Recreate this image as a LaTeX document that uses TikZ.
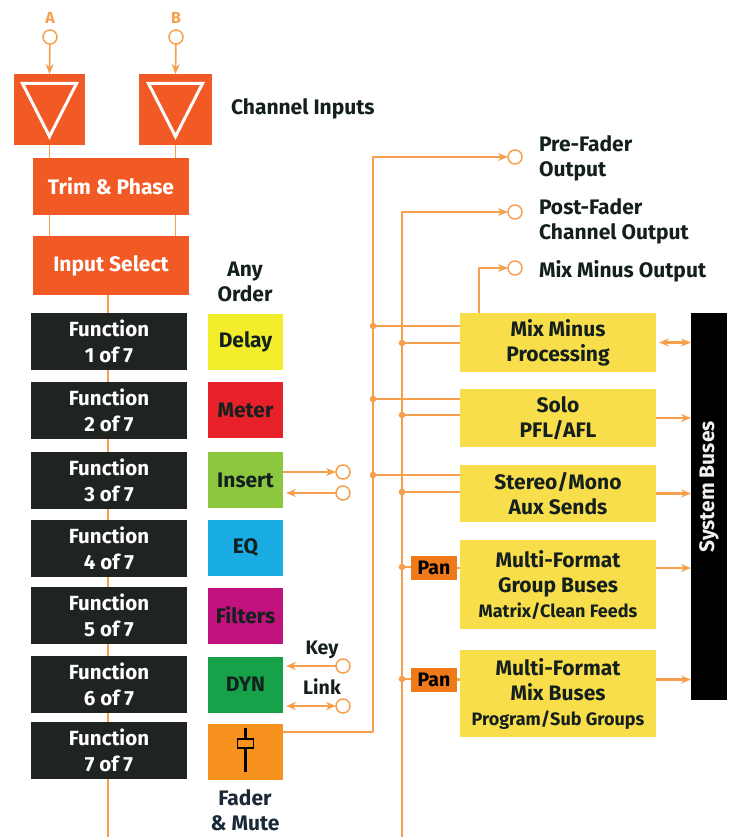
\documentclass[tikz,border=0pt]{standalone}
\usepackage{fontspec}
\setmainfont{Fira Sans}
\usetikzlibrary{arrows.meta,calc}
\definecolor{cRed}{HTML}{F15A24}
\definecolor{cLine}{HTML}{F6A04D}
\definecolor{cDark}{HTML}{1F2421}
\definecolor{cDelay}{HTML}{F2EE2B}
\definecolor{cMeter}{HTML}{E8202A}
\definecolor{cInsert}{HTML}{8CC83F}
\definecolor{cEQ}{HTML}{1AADE4}
\definecolor{cFilt}{HTML}{C1127E}
\definecolor{cDyn}{HTML}{17A24A}
\definecolor{cFader}{HTML}{F7921E}
\definecolor{cPan}{HTML}{EF7A1A}
\definecolor{cYel}{HTML}{F9DE4B}
\definecolor{cTxt}{HTML}{14201E}
\definecolor{cNavy}{HTML}{1B2838}
\begin{document}
\begin{tikzpicture}[x=1pt,y=-1pt,
  font=\fontsize{21}{25}\selectfont\bfseries,
  every node/.style={inner sep=0pt,outer sep=0pt,align=center},
  sz/.style 2 args={minimum width=#1,minimum height=#2},
  redbox/.style={fill=cRed,text=white},
  fnbox/.style={fill=cDark,text=white,sz={156}{57},font=\fontsize{20.5}{26}\selectfont\bfseries},
  colbox/.style={fill=#1,text=cTxt,sz={75}{56}},
  ybox/.style={fill=cYel,text=cTxt,minimum width=196},
  wire/.style={draw=cLine,line width=2.3pt,line join=round},
  thinw/.style={draw=cLine,line width=1.7pt},
  port/.style={circle,draw=cLine,line width=1.5pt,fill=white,minimum size=14pt},
  tip/.style={-{Stealth[length=10pt,width=8pt]}},
  tips/.style={{Stealth[length=10pt,width=8pt]}-{Stealth[length=10pt,width=8pt]}},
  lbl/.style={text=cTxt,align=left},
  small/.style={font=\fontsize{19.5}{25}\selectfont\bfseries},
]
\useasboundingbox (0,0) rectangle (735,837);
\fill[white] (0,0) rectangle (735,837);

% inputs
\node[port] (pA) at (50,37) {};
\node[port] (pB) at (176,37) {};
\node[text=cLine,anchor=base,font=\fontsize{16}{18}\selectfont\bfseries] (lA) at (50,24) {A};
\node[text=cLine,anchor=base,font=\fontsize{16}{18}\selectfont\bfseries] (lB) at (176,24) {B};
\node[redbox,sz={71}{71}] (inA) at (49.5,109.5) {};
\node[redbox,sz={73}{71}] (inB) at (175.5,109.5) {};
\draw[white,line width=3pt] ($(inA)+(-27,-26)$) -- ($(inA)+(27,-26)$) -- ($(inA)+(0,27)$) -- cycle;
\draw[white,line width=3pt] ($(inB)+(-27,-26)$) -- ($(inB)+(27,-26)$) -- ($(inB)+(0,27)$) -- cycle;
\draw[thinw,tip] (pA) -- (inA.north);
\draw[thinw,tip] (pB) -- (inB.north);
\node[redbox,sz={156}{57}] (trim) at (111,186.5) {Trim \& Phase};
\node[redbox,sz={156}{59}] (insel) at (111,265.5) {Input Select};
\draw[thinw] (inA.south) -- (inA.south |- trim.north);
\draw[thinw] (inB.south) -- (inB.south |- trim.north);
\draw[thinw] (inA.south |- trim.south) -- (inA.south |- insel.north);
\draw[thinw] (inB.south |- trim.south) -- (inB.south |- insel.north);
\node[anchor=base west,text=cTxt] (chin) at (231,115) {Channel Inputs};

% main chain line
\coordinate (cbot) at (108,837);
\draw[thinw] (cbot |- insel.south) -- (cbot);

% function boxes
\foreach \i/\y in {1/341.5,2/410,3/480,4/548,5/615.5,6/684.5,7/750.5}
  \node[fnbox] (f\i) at (109,\y) {Function\\\i\ of 7};

% colour boxes
\node[text=cTxt] (any) at (245,282) {Any\\Order};
\node[colbox=cDelay] (delay) at (245.5,341.5) {Delay};
\node[colbox=cMeter] (meter) at (245.5,410) {Meter};
\node[colbox=cInsert] (insert) at (245.5,480) {Insert};
\node[colbox=cEQ] (eq) at (245.5,548) {EQ};
\node[colbox=cFilt] (filt) at (245.5,615.5) {Filters};
\node[colbox=cDyn] (dyn) at (245.5,684.5) {DYN};
\node[colbox=cFader] (fader) at (245.5,752) {};
\draw[black,line width=3.5pt] ($(fader)+(0,-24)$) -- ($(fader)+(0,20)$);
\filldraw[fill=cFader,draw=black,line width=1.8pt] ($(fader)+(-8,-13)$) rectangle ($(fader)+(8,-4)$);
\node[text=cNavy] (fm) at (245,810) {Fader\\\& Mute};

% insert / key / link ports
\node[port] (iout) at (343,472) {};
\node[port] (iin) at (343,493) {};
\draw[thinw,tip] (insert.east |- iout) -- (iout);
\draw[thinw,tip] (iin) -- ($(insert.east |- iin)+(3,0)$);
\node[port] (kp) at (343,666) {};
\node[port] (lp) at (343,706) {};
\node[text=cTxt,small] (key) at (322,650) {Key};
\node[text=cTxt,small] (link) at (322,687) {Link};
\draw[thinw,tip] (kp) -- ($(dyn.east |- kp)+(3,0)$);
\draw[thinw,tips] ($(dyn.east |- lp)+(3,0)$) -- (lp);

% right blocks
\node[ybox,minimum height=59] (mm) at (558,342.5) {Mix Minus\\Processing};
\node[ybox,minimum height=58] (solo) at (558,418) {Solo\\PFL/AFL};
\node[ybox,minimum height=57] (stereo) at (558,493.5) {Stereo/Mono\\Aux Sends};
\node[ybox,minimum height=89] (group) at (558,584.5) {Multi-Format\\Group Buses\\{\fontsize{18}{20}\selectfont Matrix/Clean Feeds}};
\node[ybox,minimum height=87] (mixb) at (558,693.5) {Multi-Format\\Mix Buses\\{\fontsize{18}{20}\selectfont Program/Sub Groups}};
\node[fill=cPan,text=black,sz={46}{24},small] (pan1) at (434,568) {Pan};
\node[fill=cPan,text=black,sz={46}{24},small] (pan2) at (434,679.5) {Pan};
\node[fill=black,sz={36}{387}] (bar) at (709,506.5) {};
\node[rotate=90,text=white!88!gray] (sbl) at (709,487) {System Buses};

% outputs
\node[port] (oPre) at (515,157) {};
\node[port] (oPost) at (515,212) {};
\node[port] (oMM) at (515,268) {};
\node[lbl,anchor=north west] (tPre) at (539,136) {Pre-Fader\\Output};
\node[lbl,anchor=north west] (tPost) at (539,199) {Post-Fader\\Channel Output};
\node[lbl,anchor=base west] (tMM) at (539,277) {Mix Minus Output};

% buses
\coordinate (L1top) at (373,157);
\coordinate (L1bot) at (373,732);
\coordinate (L2top) at (402,212);
\coordinate (L2bot) at (402,837);
\coordinate (L3) at (479,268);
\draw[wire,tip] (fader.east |- L1bot) -- (L1bot) -- (L1top) -- (oPre);
\draw[wire,tip] (L2bot) -- (L2top) -- (oPost);
\draw[wire,tip] (L3 |- mm.north) -- (L3) -- (oMM);

\foreach \n/\y in {mm/326,solo/399,stereo/475}{
  \coordinate (j) at (373,\y);
  \draw[wire] (j) -- (\n.west |- j);
  \fill[cLine] (j) circle (3.3pt);
}
\foreach \n/\y in {mm/343,solo/415,stereo/492,pan1/567,pan2/679}{
  \coordinate (j) at (402,\y);
  \draw[wire] (j) -- (\n.west |- j);
  \fill[cLine] (j) circle (3.3pt);
}
\draw[wire] (pan1.east) -- (group.west |- pan1);
\draw[wire] (pan2.east) -- (mixb.west |- pan2);

\draw[wire,tips] ($(mm.east)+(3,0)$) -- (bar.west |- mm.east);
\draw[wire,tip] (solo.east) -- (bar.west |- solo.east);
\draw[wire,tip] (stereo.east) -- (bar.west |- stereo.east);
\draw[wire,tip] (group.east |- pan1) -- (bar.west |- pan1);
\draw[wire,tip] (mixb.east |- pan2) -- (bar.west |- pan2);
\end{tikzpicture}
\end{document}
